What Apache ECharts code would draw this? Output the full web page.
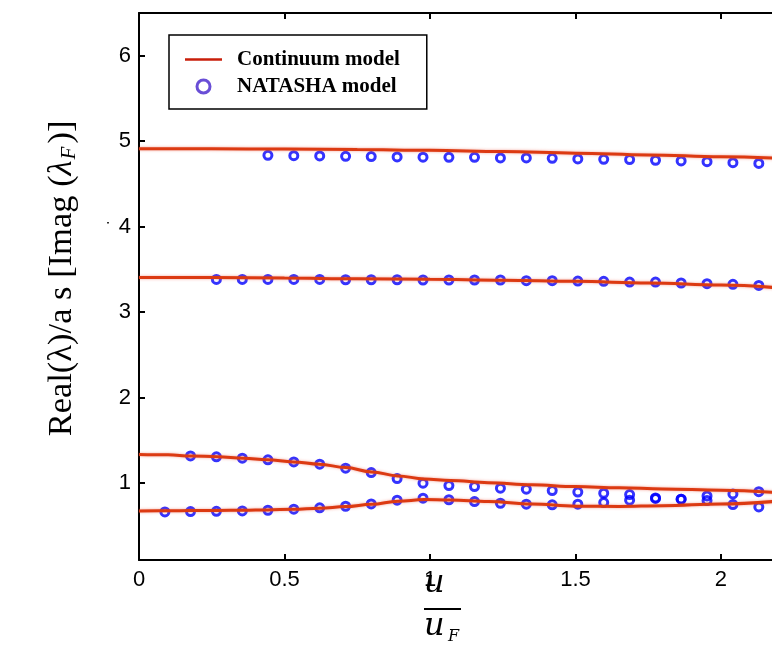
<!DOCTYPE html>
<html>
<head>
<meta charset="utf-8">
<script src="https://cdn.jsdelivr.net/npm/echarts@6/dist/echarts.min.js"></script>
<style>
  html, body { margin: 0; padding: 0; background: #fff; }
  #chart { width: 772px; height: 645px; }
</style>
</head>
<body>
<div id="chart"></div>
<script>
// Flow speed ratio u/u_F at each NATASHA sample
const natashaX = [0.089, 0.177, 0.266, 0.355, 0.443, 0.532, 0.621, 0.710, 0.798, 0.887,
                  0.976, 1.065, 1.153, 1.242, 1.331, 1.420, 1.508, 1.597, 1.686, 1.775,
                  1.863, 1.952, 2.041, 2.130];

// NATASHA model eigenvalues (sample index ranges noted)
const natashaMode4 = [4.835, 4.831, 4.828, 4.823, 4.820, 4.816, 4.813, 4.812, 4.812, 4.804,
                      4.804, 4.800, 4.792, 4.788, 4.785, 4.777, 4.769, 4.761, 4.749, 4.740]; // samples 5..24
const natashaMode3 = [3.383, 3.383, 3.383, 3.383, 3.383, 3.379, 3.379, 3.379, 3.376, 3.376,
                      3.376, 3.376, 3.368, 3.368, 3.364, 3.360, 3.352, 3.352, 3.341, 3.333,
                      3.325, 3.313]; // samples 3..24
const natashaMode2 = [1.318, 1.307, 1.291, 1.272, 1.248, 1.221, 1.174, 1.123, 1.053, 0.999,
                      0.971, 0.959, 0.940, 0.929, 0.912, 0.895, 0.881, 0.866, 0.826, 0.811,
                      0.795, 0.748, 0.721]; // samples 2..24
const natashaMode1 = [0.663, 0.666, 0.670, 0.674, 0.682, 0.694, 0.710, 0.729, 0.756, 0.800,
                      0.823, 0.805, 0.784, 0.764, 0.753, 0.745, 0.753, 0.772, 0.800, 0.820,
                      0.811, 0.850, 0.873, 0.900]; // samples 1..24

// Continuum model curves
const contX_hi = [0, 0.25, 0.5, 0.75, 1.0, 1.25, 1.5, 1.75, 2.0, 2.2];
const contMode4 = [4.913, 4.912, 4.908, 4.902, 4.894, 4.879, 4.860, 4.840, 4.818, 4.800];
const contMode3 = [3.406, 3.404, 3.398, 3.390, 3.384, 3.374, 3.360, 3.342, 3.317, 3.283];
const contX_lo = [0, 0.10, 0.18, 0.27, 0.36, 0.44, 0.53, 0.62, 0.71, 0.80, 0.89, 0.98, 1.07,
                  1.20, 1.35, 1.50, 1.65, 1.80, 2.00, 2.20];
const contMode2 = [1.334, 1.330, 1.318, 1.307, 1.291, 1.272, 1.248, 1.221, 1.182, 1.131,
                   1.084, 1.049, 1.030, 1.005, 0.980, 0.959, 0.945, 0.932, 0.917, 0.885];
const contMode1 = [0.674, 0.676, 0.678, 0.680, 0.682, 0.686, 0.694, 0.706, 0.725, 0.752,
                   0.788, 0.807, 0.803, 0.785, 0.755, 0.730, 0.727, 0.735, 0.755, 0.790];

const xTicks = [0, 0.5, 1, 1.5, 2];
const yTicks = [1, 2, 3, 4, 5, 6];

const RED = '#dc3a12';
const BLUE = '#0000ff';

function pairs(xs, ys, offset) {
  return ys.map((y, i) => [xs[i + offset], y]);
}

const natashaPoints = []
  .concat(pairs(natashaX, natashaMode4, 4))
  .concat(pairs(natashaX, natashaMode3, 2))
  .concat(pairs(natashaX, natashaMode2, 1))
  .concat(pairs(natashaX, natashaMode1, 0));

const contCurves = [
  pairs(contX_hi, contMode4, 0),
  pairs(contX_hi, contMode3, 0),
  pairs(contX_lo, contMode2, 0),
  pairs(contX_lo, contMode1, 0)
];

const chart = echarts.init(document.getElementById('chart'), null, { renderer: 'canvas' });

const axisFont = { fontFamily: '"Liberation Sans", Arial, sans-serif', fontSize: 22, color: '#000' };
const X_MAX = 2.1753; // visible extent of the u/u_F axis

const option = {
  animation: false,
  backgroundColor: '#fff',
  grid: { left: 139, top: 13, width: 633, height: 547, containLabel: false },
  xAxis: [
    {
      type: 'value', min: 0, max: X_MAX, interval: 0.5, position: 'bottom',
      axisLine: { lineStyle: { color: '#000', width: 2 } },
      axisTick: { inside: true, length: 6, customValues: xTicks, lineStyle: { color: '#000', width: 2 } },
      axisLabel: Object.assign({ margin: 9, customValues: xTicks }, axisFont),
      splitLine: { show: false }
    },
    {
      type: 'value', min: 0, max: X_MAX, interval: 0.5, position: 'top',
      axisLine: { lineStyle: { color: '#000', width: 2 } },
      axisTick: { inside: true, length: 6, customValues: xTicks, lineStyle: { color: '#000', width: 2 } },
      axisLabel: { show: false },
      splitLine: { show: false }
    }
  ],
  yAxis: {
    type: 'value', min: 0.1, max: 6.5,
    axisLine: { lineStyle: { color: '#000', width: 2 } },
    axisTick: { inside: true, length: 6, customValues: yTicks, lineStyle: { color: '#000', width: 2 } },
    axisLabel: Object.assign({ margin: 8, customValues: yTicks }, axisFont),
    splitLine: { show: false },
    name: 'Real(λ)/a s [Imag ({l|λ}{s|F})]',
    nameLocation: 'middle',
    nameGap: 59,
    nameRotate: 90,
    nameTextStyle: {
      fontFamily: '"Liberation Serif", "Times New Roman", serif',
      fontSize: 34.5,
      color: '#000',
      padding: [0, 0, 0, 16],
      rich: {
        l: { fontFamily: '"Liberation Serif", serif', fontStyle: 'italic', fontSize: 34.5, color: '#000' },
        s: { fontFamily: '"Liberation Serif", serif', fontStyle: 'italic', fontSize: 21, color: '#000', verticalAlign: 'bottom', padding: [15, 3, 0, 1] }
      }
    }
  },
  legend: {
    left: 169, top: 35,
    orient: 'vertical',
    backgroundColor: '#fff',
    borderColor: '#000',
    borderWidth: 1.5,
    borderRadius: 0,
    padding: [14, 27, 12, 16],
    itemWidth: 37,
    itemHeight: 13,
    itemGap: 6,
    textStyle: {
      fontFamily: '"Liberation Serif", "Times New Roman", serif',
      fontWeight: 'bold', fontSize: 21, color: '#000',
      lineHeight: 20, padding: [0, 0, 0, 10]
    },
    data: [
      { name: 'Continuum model', icon: 'path://M0,0 L37,0 L37,2.5 L0,2.5 Z', itemStyle: { color: '#c81e0a' } },
      { name: 'NATASHA model', icon: 'circle', itemStyle: { color: '#fff', borderColor: '#4422cc', borderWidth: 3 } }
    ]
  },
  series: [
    {
      name: 'NATASHA model',
      type: 'scatter',
      xAxisIndex: 0,
      data: natashaPoints,
      symbol: 'circle',
      symbolSize: 8,
      z: 2,
      itemStyle: { color: 'rgba(255,255,255,0)', borderColor: BLUE, borderWidth: 3 }
    }
  ].concat(contCurves.map(d => ({
    name: 'Continuum model',
    type: 'line',
    xAxisIndex: 0,
    data: d,
    smooth: 0.4,
    smoothMonotone: 'x',
    showSymbol: false,
    symbol: 'none',
    z: 3,
    lineStyle: { color: RED, width: 3, shadowColor: 'rgba(235,90,70,0.55)', shadowBlur: 3 },
    itemStyle: { color: RED }
  }))),
  graphic: [
    // x-axis quantity written as the fraction u / u_F
    {
      type: 'text', left: 424, top: 568, z: 10,
      style: { text: 'u', fill: '#000', font: 'italic 32px "DejaVu Serif", serif' }
    },
    {
      type: 'line', z: 10,
      shape: { x1: 424, y1: 609, x2: 461, y2: 609 },
      style: { stroke: '#000', lineWidth: 2 }
    },
    {
      type: 'text', left: 424, top: 611, z: 10,
      style: { text: 'u', fill: '#000', font: 'italic 32px "DejaVu Serif", serif' }
    },
    {
      type: 'text', left: 448, top: 629, z: 10,
      style: { text: 'F', fill: '#000', font: 'italic 16px "DejaVu Serif", serif' }
    },
    {
      type: 'rect', z: 10,
      shape: { x: 107, y: 222, width: 2, height: 1.5 },
      style: { fill: '#333' }
    }
  ]
};

chart.setOption(option);
</script>
</body>
</html>
